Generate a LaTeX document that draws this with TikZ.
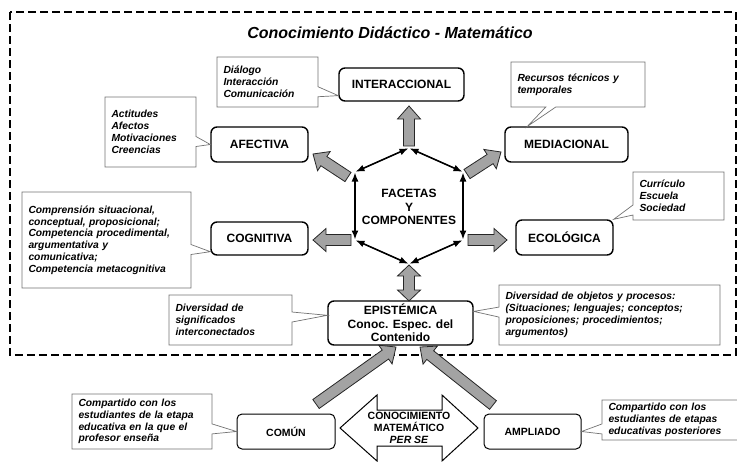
\documentclass[tikz,border=0pt]{standalone}
\usepackage{fontspec}
\setmainfont{Liberation Sans}
\usetikzlibrary{arrows.meta, positioning, shapes.callouts}
\tikzset{%
	facet box/.style={
		draw,
		rounded corners=6pt,
		line width=1.4pt,
		inner sep=0pt,
		align=center,
		font=\bfseries\fontsize{12}{13.5}\selectfont
	},
	level box/.style={
		draw,
		rounded corners=5pt,
		line width=1pt,
		inner sep=0pt,
		align=center,
		font=\bfseries\fontsize{10.5}{12}\selectfont
	},
	note box/.style={
		rectangle callout,
		draw=black!55,
		line width=0.7pt,
		fill=white,
		callout pointer width=10pt,
		inner xsep=6.5pt,
		inner ysep=2pt,
		align=left,
		font=\bfseries\itshape\fontsize{10.3}{11.8}\selectfont
	},
	gray arrow/.style={
		draw=black!85,
		line width=0.8pt,
		fill=black!36,
		line join=miter
	},
	edge arrow/.style={
		{Latex[length=9pt,width=7pt]}-{Latex[length=9pt,width=7pt]},
		line width=1.6pt,
		shorten <=0.5pt,
		shorten >=0.5pt
	},
}
% block arrow from #1 to #2
\newcommand{\grayarrow}[2]{%
	\pgfpointdiff{\pgfpointanchor{#1}{center}}{\pgfpointanchor{#2}{center}}%
	\pgfgetlastxy{\arrdx}{\arrdy}%
	\pgfmathsetmacro{\arrang}{atan2(\arrdy,\arrdx)}%
	\pgfmathsetmacro{\arrlen}{veclen(\arrdx,\arrdy)}%
	\draw[gray arrow, shift={(#1)}, rotate=\arrang]
		(0,-5.5) -- ({\arrlen-13},-5.5) -- ({\arrlen-13},-11.5) -- (\arrlen,0)
		-- ({\arrlen-13},11.5) -- ({\arrlen-13},5.5) -- (0,5.5) -- cycle;
}
% block arrow with two heads
\newcommand{\graydoublearrow}[2]{%
	\pgfpointdiff{\pgfpointanchor{#1}{center}}{\pgfpointanchor{#2}{center}}%
	\pgfgetlastxy{\arrdx}{\arrdy}%
	\pgfmathsetmacro{\arrang}{atan2(\arrdy,\arrdx)}%
	\pgfmathsetmacro{\arrlen}{veclen(\arrdx,\arrdy)}%
	\draw[gray arrow, shift={(#1)}, rotate=\arrang]
		(0,0) -- (11,-11.5) -- (11,-5.5) -- ({\arrlen-11},-5.5) -- ({\arrlen-11},-11.5)
		-- (\arrlen,0) -- ({\arrlen-11},11.5) -- ({\arrlen-11},5.5) -- (11,5.5)
		-- (11,11.5) -- cycle;
}

\begin{document}
\begin{tikzpicture}[x=1pt, y=-1pt]
	\useasboundingbox (0,0) rectangle (737,461);
	\clip (0,0) rectangle (737,461);
	
	% Dashed frame and title
	\draw[dash pattern=on 8pt off 4pt, line width=1.5pt] (10,12) rectangle (736,355);
	\node[font=\bfseries\itshape\fontsize{16}{19}\selectfont] (title) at (390,33)
		{Conocimiento Did\'actico - Matem\'atico};
	
	% Facets
	\node[facet box, minimum width=125pt, minimum height=33pt] (interac) at (401.5,84.5) {INTERACCIONAL};
	\node[facet box, minimum width=97pt, minimum height=35pt] (afect) at (259.5,144.5) {AFECTIVA};
	\node[facet box, minimum width=123pt, minimum height=35pt] (medi) at (566.5,144.5) {MEDIACIONAL};
	\node[facet box, minimum width=97pt, minimum height=33pt] (cogn) at (259.5,238.5) {COGNITIVA};
	\node[facet box, minimum width=97pt, minimum height=35pt] (ecol) at (564.5,237.5) {ECOL\'OGICA};
	\node[facet box, minimum width=145pt, minimum height=44pt] (epis) at (400.5,323)
		{EPIST\'EMICA\\Conoc. Espec. del\\Contenido};
	
	% Hexagon of facets
	\coordinate (fT) at (409,148);
	\coordinate (fUL) at (355,172);
	\coordinate (fUR) at (463,172);
	\coordinate (fLL) at (355,240);
	\coordinate (fLR) at (463,240);
	\coordinate (fB) at (409,264);
	\node[font=\bfseries\fontsize{12}{13.5}\selectfont, align=center] (facetas) at (409,207)
		{FACETAS\\Y\\COMPONENTES};
	\draw[edge arrow] (fUL) -- (fT);
	\draw[edge arrow] (fT) -- (fUR);
	\draw[edge arrow] (fUL) -- (fLL);
	\draw[edge arrow] (fUR) -- (fLR);
	\draw[edge arrow] (fLL) -- (fB);
	\draw[edge arrow] (fB) -- (fLR);
	
	% Gray arrows out of the hexagon
	\coordinate (aI1) at (409,146);  \coordinate (aI2) at (409,106);
	\coordinate (aA1) at (348,177);  \coordinate (aA2) at (313,154);
	\coordinate (aM1) at (467,174);  \coordinate (aM2) at (501,152);
	\coordinate (aC1) at (351,240);  \coordinate (aC2) at (313,240);
	\coordinate (aE1) at (468,240);  \coordinate (aE2) at (507,240);
	\coordinate (aP1) at (409,265);  \coordinate (aP2) at (409,301);
	\grayarrow{aI1}{aI2}
	\grayarrow{aA1}{aA2}
	\grayarrow{aM1}{aM2}
	\grayarrow{aC1}{aC2}
	\grayarrow{aE1}{aE2}
	\graydoublearrow{aP1}{aP2}
	
	% Notes
	\node[note box, text width=88pt, minimum height=50pt, callout absolute pointer={(interac.190)}]
		(dialogo) at (267.5,82) {Di\'alogo\\Interacci\'on\\Comunicaci\'on};
	\node[note box, text width=78pt, minimum height=70pt, callout absolute pointer={(afect.west)}]
		(actitud) at (150.5,132) {Actitudes\\Afectos\\Motivaciones\\Creencias};
	\node[note box, text width=156pt, minimum height=96pt, callout absolute pointer={(cogn.195)}]
		(comprens) at (106.5,240) {Comprensi\'on situacional,\\conceptual, proposicional;\\Competencia procedimental,\\argumentativa y\\comunicativa;\\Competencia metacognitiva};
	\node[note box, text width=121pt, minimum height=45pt, callout absolute pointer={(medi.155)}]
		(recursos) at (578,84.5) {Recursos t\'ecnicos y\\temporales};
	\node[note box, text width=78pt, minimum height=48pt, callout absolute pointer={(ecol.north east)}]
		(curric) at (678.5,196) {Curr\'iculo\\Escuela\\Sociedad};
	\node[note box, text width=110pt, minimum height=50pt, callout absolute pointer={(epis.174)}]
		(divsig) at (230.5,320) {Diversidad de\\significados\\interconectados};
	\node[note box, text width=208pt, minimum height=60pt, callout absolute pointer={(epis.9)}]
		(divobj) at (609.5,315) {Diversidad de objetos y procesos:\\(Situaciones; lenguajes; conceptos;\\proposiciones; procedimientos;\\argumentos)};
	
	% Mathematical knowledge per se
	\node[level box, minimum width=98pt, minimum height=35pt] (comun) at (286,431.5) {COM\'UN};
	\node[level box, minimum width=97pt, minimum height=35pt] (ampl) at (532.5,431.5) {AMPLIADO};
	\draw[line width=1pt, fill=white] (340,428) -- (377,395) -- (377,410) -- (442,410) -- (442,395)
		-- (478,428) -- (442,461) -- (442,446) -- (377,446) -- (377,461) -- cycle;
	\node[font=\bfseries\fontsize{10.5}{12}\selectfont, align=center] (conmat) at (409,428)
		{CONOCIMIENTO\\MATEM\'ATICO\\{\itshape PER SE}};
	\node[note box, text width=127pt, minimum height=55pt, callout absolute pointer={(comun.west)}]
		(compcom) at (142,421.5) {Compartido con los\\estudiantes de la etapa\\educativa en la que el\\profesor ense\~na};
	\node[note box, text width=130pt, minimum height=40pt, callout absolute pointer={(ampl.east)}]
		(compamp) at (673.5,420) {Compartido con los\\estudiantes de etapas\\educativas posteriores};
	
	% Arrows up to the epistemic facet
	\coordinate (aCo1) at (316,404);  \coordinate (aCo2) at (396,347);
	\coordinate (aAm1) at (493,405);  \coordinate (aAm2) at (420,347);
	\grayarrow{aCo1}{aCo2}
	\grayarrow{aAm1}{aAm2}
\end{tikzpicture}
\end{document}
